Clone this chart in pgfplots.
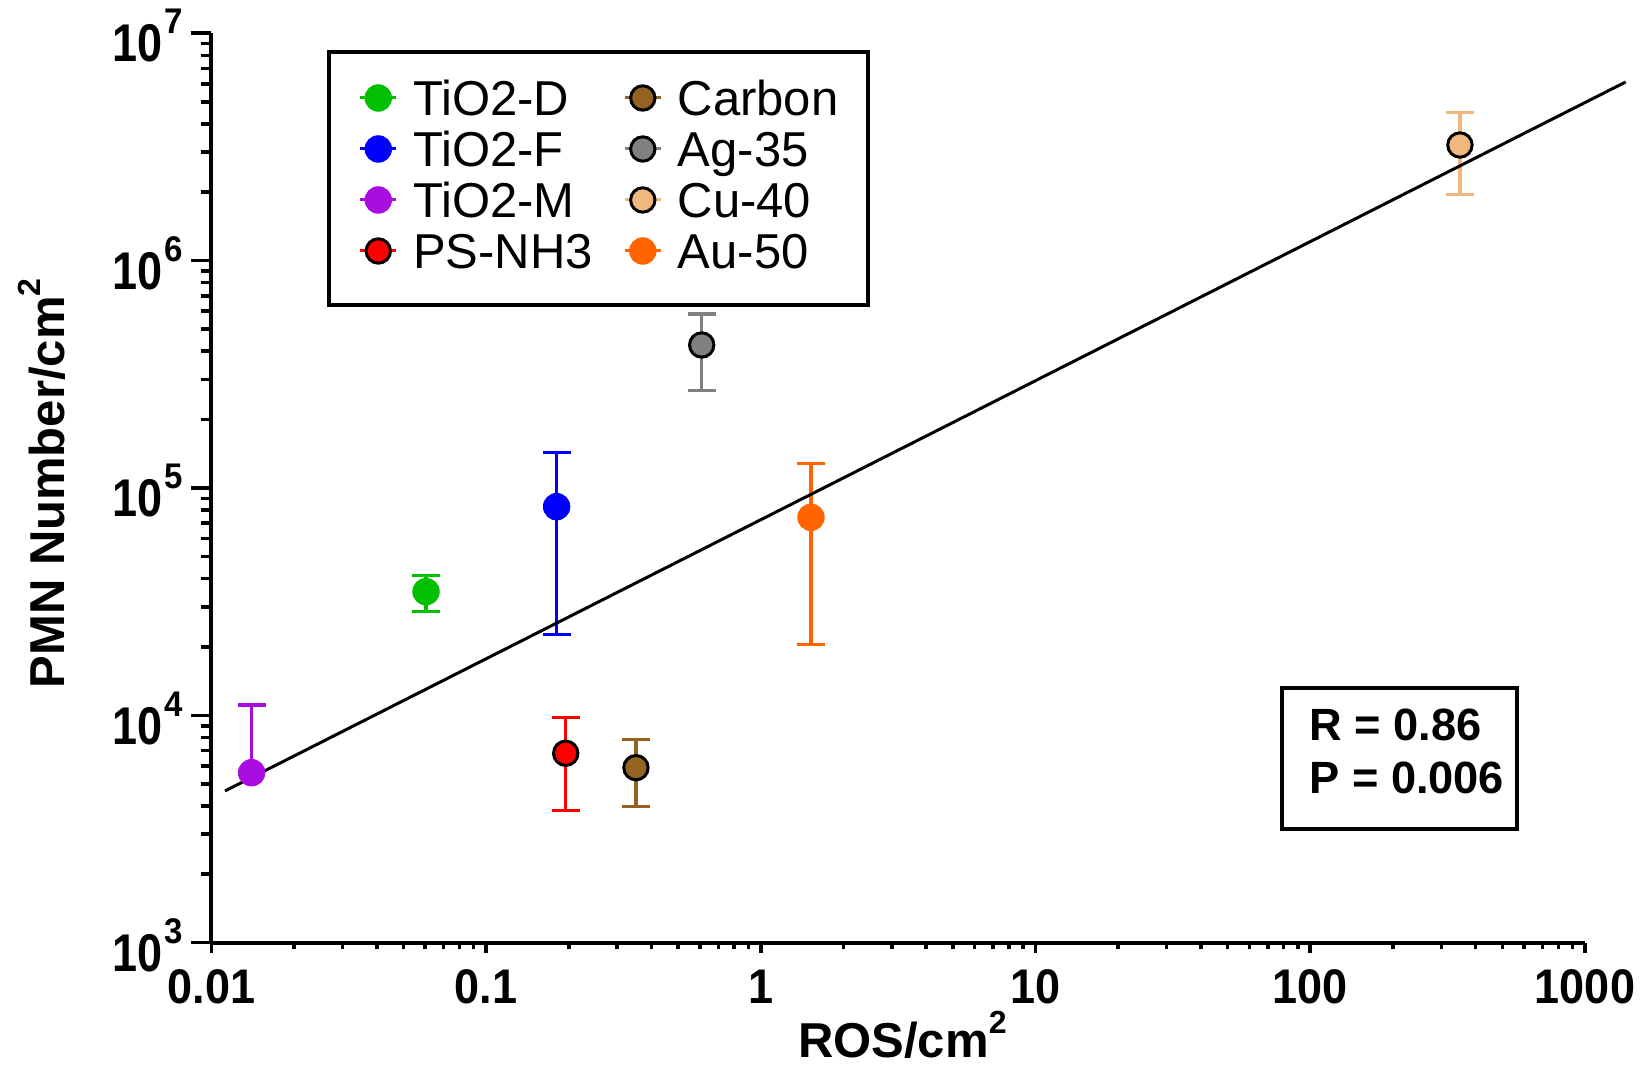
\documentclass[border=0pt]{standalone}
\usepackage{pgfplots}
\pgfplotsset{compat=1.18}
\usepackage{fontspec}
\setmainfont{Liberation Sans}
\definecolor{cD}{HTML}{00C000}
\definecolor{cF}{HTML}{0000FF}
\definecolor{cM}{HTML}{A80CE0}
\definecolor{cP}{HTML}{FF0000}
\definecolor{cC}{HTML}{946322}
\definecolor{cA}{HTML}{808080}
\definecolor{cU}{HTML}{F0B87E}
\definecolor{cO}{HTML}{FF6400}
\newcommand\ylab[1]{\scalebox{1}[1.18]{10}\kern1.2pt\raisebox{14pt}{\scalebox{1}[1.08]{\fontsize{16.5}{17}\selectfont #1}}}
\newcommand\xlab[1]{\scalebox{1}[1.08]{#1}}
\pgfplotsset{
  legimg/.style={legend image code/.code={
      \draw[line width=1.5pt, draw=#1] (0pt,8.8pt) -- (18pt,8.8pt);
      \draw[##1] plot coordinates {(9pt,8.8pt)};
      \path[draw=none, fill=none] (0pt,0pt) -- (26.5pt,0pt);
  }},
  ptA/.style={only marks, color=#1, mark=*, mark size=6.6pt,
    mark options={draw=#1, fill=#1, line width=0.5pt, solid},
    legimg=#1},
  ptB/.style={only marks, color=#1, mark=*, mark size=6.1pt,
    mark options={draw=black, fill=#1, line width=1.5pt, solid},
    legimg=#1},
  eb/.style={error bars/y explicit,
    error bars/error bar style={line width=1.6pt, #1},
    error bars/error mark options={rotate=90, line width=1.6pt, mark size=7pt, draw=#1}},
}
\begin{document}
\begin{tikzpicture}
\begin{axis}[
  scale only axis, width=686.75pt, height=454.7pt,
  at={(0pt,0pt)}, anchor=south west,
  xmode=log, ymode=log,
  xmin=0.01, xmax=1000, ymin=1e3, ymax=1e7,
  axis lines*=left,
  axis line style={-, line width=2pt, black},
  tick align=outside,
  tick style={line width=1.8pt, black},
  major tick length=10.5pt, minor tick length=5.5pt,
  xtick style={/pgfplots/major tick length=5pt, /pgfplots/minor tick length=3.3pt},
  xtick={0.01,0.1,1,10,100,1000},
  xticklabels={\xlab{0.01},\xlab{0.1},\xlab{1},\xlab{10},\xlab{100},\xlab{1000}},
  ytick={1e3,1e4,1e5,1e6,1e7},
  yticklabels={\ylab{3},\ylab{4},\ylab{5},\ylab{6},\ylab{7}},
  xticklabel style={font=\fontsize{22.5}{27}\selectfont\bfseries, anchor=base, inner sep=0pt, yshift=-19.8pt},
  yticklabel style={font=\fontsize{22.5}{27}\selectfont\bfseries, anchor=base east, inner sep=0pt, yshift=-14.35pt, xshift=-3.5pt},
  xlabel={ROS/cm\raisebox{12pt}{\fontsize{16}{16}\selectfont 2}},
  ylabel={PMN Number/cm\raisebox{12pt}{\fontsize{16}{16}\selectfont 2}},
  xlabel style={at={(axis description cs:0.503,-0.1268)}, anchor=base, inner sep=0pt, font=\fontsize{24.5}{29}\selectfont\bfseries},
  ylabel style={at={(axis description cs:-0.10666,0.505)}, anchor=base, inner sep=0pt, font=\fontsize{24.5}{29}\selectfont\bfseries},
  clip=false,
  legend columns=2,
  legend style={at={(axis description cs:0.08446,0.9812)}, anchor=north west,
    draw=black, line width=2pt, fill=white,
    inner xsep=14.65pt, inner ysep=13.6pt, column sep=0pt, row sep=3pt,
    font=\fontsize{24.5}{29}\selectfont,
    cells={anchor=base west},
    nodes={inner sep=0pt, text height=18pt, text depth=4.5pt}},
]
% TiO2-D
\addplot[ptA=cD, eb=cD, error bars/y dir=both] coordinates {(0.0604,34990) +- (0,6300)};
\addlegendentry{\makebox[105pt][l]{TiO2-D}}
% Carbon
\addplot[ptB=cC, eb=cC, error bars/y dir=both] coordinates {(0.351,5886) +- (0,1925)};
\addlegendentry{Carbon}
% TiO2-F
\addplot[ptA=cF, eb=cF, error bars/y dir=both] coordinates {(0.1805,82750) +- (0,60000)};
\addlegendentry{\makebox[105pt][l]{TiO2-F}}
% Ag-35
\addplot[ptB=cA, eb=cA, error bars/y dir=both] coordinates {(0.609,425600) +- (0,156500)};
\addlegendentry{Ag-35}
% TiO2-M
\addplot[ptA=cM, eb=cM, error bars/y dir=plus] coordinates {(0.0140,5594) +- (0,5512)};
\addlegendentry{\makebox[105pt][l]{TiO2-M}}
% Cu-40
\addplot[ptB=cU, eb=cU, error bars/y dir=both] coordinates {(350.6,3226000) +- (0,1265000)};
\addlegendentry{Cu-40}
% PS-NH3
\addplot[ptB=cP, eb=cP, error bars/y dir=both] coordinates {(0.1948,6810) +- (0,2990)};
\addlegendentry{\makebox[105pt][l]{PS-NH3}}
% Au-50
\addplot[ptA=cO, eb=cO, error bars/y dir=both] coordinates {(1.522,74310) +- (0,53800)};
\addlegendentry{Au-50}
% fit line
\addplot[black, line width=1.5pt, no marks, forget plot] coordinates {(0.0112,4650) (1406,6107000)};
\end{axis}
\draw[line width=2pt] (535.1pt,56.7pt) rectangle (652.65pt,127.55pt);
\node[anchor=base west, inner sep=0pt, font=\fontsize{22.6}{27}\selectfont\bfseries] at (548.75pt,101.25pt) {R = 0.86};
\node[anchor=base west, inner sep=0pt, font=\fontsize{22.6}{27}\selectfont\bfseries] at (548.75pt,74.75pt) {P = 0.006};
\pgfresetboundingbox
\path[use as bounding box] (-105.75pt,-66.15pt) rectangle (717.25pt,471.35pt);
\end{tikzpicture}
\end{document}
